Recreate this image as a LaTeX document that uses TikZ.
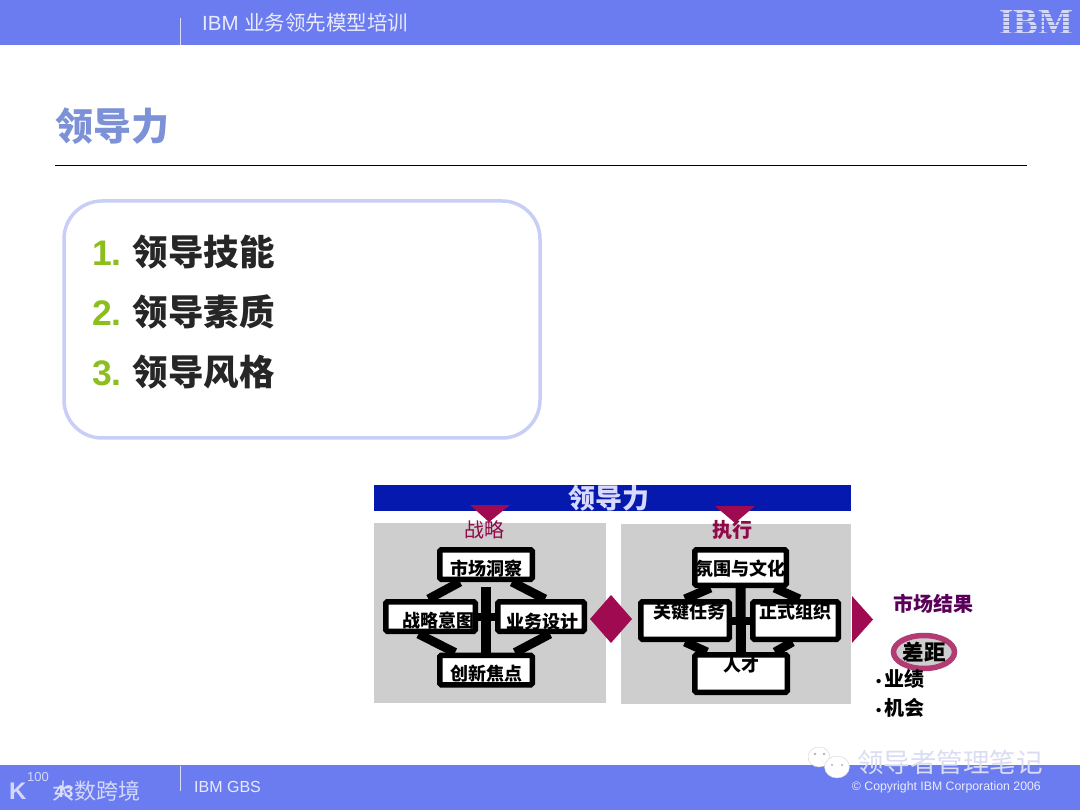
\documentclass[tikz,border=0pt]{standalone}
\usepackage{fontspec}
\usepackage{tikz}
\usetikzlibrary{backgrounds, shapes.geometric}
\setmainfont{Liberation Sans}
\newfontfamily\cjk{Noto Sans CJK SC}
\newcommand{\fsize}[1]{\fontsize{#1}{#1}\selectfont}
\definecolor{bandblue}{RGB}{107,124,240}
\definecolor{barblue}{RGB}{5,25,175}
\definecolor{crimson}{RGB}{160,10,80}
\definecolor{panelgray}{RGB}{206,206,206}
\definecolor{numgreen}{RGB}{140,190,30}
\definecolor{titleblue}{RGB}{125,145,215}
\definecolor{edgeblue}{RGB}{200,206,245}
\definecolor{markgray}{RGB}{218,221,242}
\tikzset{
  band/.style={fill=bandblue, draw=none},
  panel/.style={fill=panelgray, draw=none},
  wedge/.style={fill=crimson, draw=none},
  link/.style={black, line width=9pt},
  taskbox/.style={draw=black, fill=white, line width=5.5pt, rounded corners=1.5pt, inner sep=0pt,
    font=\cjk\bfseries\fsize{18}, text=black},
  bandtext/.style={text=white!85!bandblue, inner sep=0pt, font=\fsize{20.5}},
  listitem/.style={anchor=west, inner sep=0pt, font=\cjk\bfseries\fsize{35.5}, text=black!85}
}
\newcommand{\listnum}[1]{{\fontspec{Liberation Sans}\color{numgreen}#1}}
\newcommand{\boxlift}[2]{\raisebox{#1}[0pt][0pt]{#2}}
\newcommand{\dotmark}{{\fontspec{Liberation Sans}\fsize{15}•}\hspace{3pt}}
\begin{document}
\begin{tikzpicture}[x=1pt, y=-1pt]
  \useasboundingbox (0,0) rectangle (1080,810);

  % Header and footer bands
  \fill[band] (0,0) rectangle (1080,45);
  \fill[band] (0,765) rectangle (1080,810);
  \draw[white!75!bandblue, line width=1pt] (180,18) -- (180,45);
  \draw[white!75!bandblue, line width=1pt] (180,766) -- (180,791);
  \node[bandtext, anchor=west] (course) at (202,23) {IBM {\cjk 业务领先模型培训}};
  \node[bandtext, anchor=west, font=\fsize{16}] (gbs) at (194,787) {IBM GBS};
  \node[bandtext, anchor=east, font=\fsize{12.3}] (copyright) at (1041,787.5) {© Copyright IBM Corporation 2006};

  % IBM logo with stripes
  \node[inner sep=0pt, text=white!70!bandblue, font=\fontspec{Liberation Serif}\bfseries\fsize{37}] (logo) at (1036,22) {IBM};
  \foreach \yy in {10,14,18,22,26,30,34}
    \draw[bandblue, line width=1pt] (996,\yy) -- (1076,\yy);

  % Title
  \node[anchor=west, inner sep=0pt, text=titleblue, font=\cjk\bfseries\fsize{38}] (title) at (55,126) {领导力};
  \draw[black, line width=1pt] (55,166) -- (1027,166);

  % List box
  \draw[draw=edgeblue, line width=3.5pt, rounded corners=38pt] (64,201) rectangle (540,438);
  \node[listitem] (skill) at (92,252) {\listnum{1.} 领导技能};
  \node[listitem] (trait) at (92,312) {\listnum{2.} 领导素质};
  \node[listitem] (style) at (92,372) {\listnum{3.} 领导风格};

  % Leadership bar and panels
  \begin{pgfonlayer}{background}
    \fill[panel] (374,523) rectangle (606,703);
    \fill[panel] (621,524) rectangle (851,704);
  \end{pgfonlayer}
  \fill[barblue] (374,485) rectangle (851,511);
  \node[inner sep=0pt, text=white!85!blue, font=\cjk\bfseries\fsize{27}] (leader) at (609,498) {领导力};
  \fill[wedge] (470,505) -- (510,505) -- (489,522) -- cycle;
  \fill[wedge] (715,506) -- (755,506) -- (735,523) -- cycle;
  \node[inner sep=0pt, text=crimson!90!black, font=\cjk\fsize{20}] (strategy) at (484,530) {战略};
  \node[inner sep=0pt, text=crimson!90!black, font=\cjk\bfseries\fsize{20}] (execution) at (732,530) {执行};

  % Strategy boxes
  \node[taskbox, minimum width=92.5pt, minimum height=29.5pt] (insight) at (486,564.5) {\boxlift{-11pt}{市场洞察}};
  \node[taskbox, minimum width=89.5pt, minimum height=29.5pt] (intent) at (430.5,616.5) {\boxlift{-11pt}{\hspace{15pt}战略意图}};
  \node[taskbox, minimum width=86.5pt, minimum height=29.5pt] (design) at (541,616.5) {\boxlift{-12pt}{\hspace{2pt}业务设计}};
  \node[taskbox, minimum width=92.5pt, minimum height=29.5pt] (focus) at (486,670) {\boxlift{-10.5pt}{创新焦点}};
  \begin{pgfonlayer}{background}
    \draw[link] ([xshift=-26pt]insight.south) -- ([xshift=-2pt]intent.north);
    \draw[link] ([xshift=26pt]insight.south) -- ([xshift=4pt]design.north);
    \draw[link] ([xshift=-12pt]intent.south) -- ([xshift=-31pt]focus.north);
    \draw[link] ([xshift=9pt]design.south) -- ([xshift=29pt]focus.north);
    \draw[link, line width=9.5pt, shorten <=5pt] (insight.south) -- (focus.north);
    \draw[link, line width=8pt] (intent.east) -- (design.west);
  \end{pgfonlayer}

  % Execution boxes
  \node[taskbox, minimum width=91.5pt, minimum height=35.5pt] (culture) at (740.5,567.5) {\boxlift{-8pt}{氛围与文化}};
  \node[taskbox, minimum width=88.5pt, minimum height=37.5pt] (keytask) at (685,620.5) {\boxlift{2pt}{\hspace{8pt}关键任务}};
  \node[taskbox, minimum width=85.5pt, minimum height=37.5pt] (formal) at (795.5,620.5) {\boxlift{2pt}{正式组织}};
  \node[taskbox, minimum width=92.5pt, minimum height=37.5pt] (talent) at (741,673.5) {\boxlift{2pt}{人才}};
  \begin{pgfonlayer}{background}
    \draw[link] ([xshift=-30pt]culture.south) -- ([xshift=0pt]keytask.north);
    \draw[link] ([xshift=34pt]culture.south) -- ([xshift=4pt]formal.north);
    \draw[link] ([xshift=0pt]keytask.south) -- ([xshift=-34pt]talent.north);
    \draw[link] ([xshift=-3pt]formal.south) -- ([xshift=34pt]talent.north);
    \draw[link, line width=10pt] (culture.south) -- (talent.north);
    \draw[link, line width=8pt] (keytask.east) -- (formal.west);
  \end{pgfonlayer}

  % Diamond and result
  \fill[wedge] (611,595) -- (632,619) -- (611,643) -- (590,619) -- cycle;
  \fill[wedge] (852,596) -- (873,619.5) -- (852,643) -- cycle;
  \node[inner sep=0pt, text=violet!70!black, font=\cjk\bfseries\fsize{20}] (result) at (933.5,604) {市场结果};
  \node[ellipse, draw=crimson!80!white, fill=panelgray, line width=5.5pt, minimum width=61pt, minimum height=33pt, inner sep=0pt, font=\cjk\bfseries\fsize{21.5}] (gap) at (924,652) {差距};
  \node[anchor=west, inner sep=0pt, font=\cjk\bfseries\fsize{20}] (perf) at (876,679) {\dotmark 业绩};
  \node[anchor=west, inner sep=0pt, font=\cjk\bfseries\fsize{20}] (chance) at (876,708) {\dotmark 机会};

  % Watermarks
  \node[anchor=west, inner sep=0pt, text=white!70!bandblue, font=\bfseries\fsize{24}] (kmark) at (9,791) {K};
  \node[anchor=west, inner sep=0pt, text=white!70!bandblue, font=\fsize{13}] (hundred) at (27,777) {100};
  \node[anchor=west, inner sep=0pt, text=white!70!bandblue, font=\cjk\fsize{22}] (mark) at (52,791) {大数跨境};
  \node[inner sep=0pt, text=white!75!bandblue, font=\bfseries\fsize{17}] (pagenum) at (64,792) {43};
  \fill[white, draw=gray!35] (819,757) ellipse (11pt and 10pt);
  \fill[white, draw=gray!35] (837,767) ellipse (12.5pt and 11pt);
  \fill[gray!60] (815,754) circle (1.3pt) (824,754) circle (1.3pt) (832,765) circle (1.2pt) (842,765) circle (1.2pt);
  \node[anchor=west, inner sep=0pt, text=markgray, font=\cjk\fsize{26.5}] (wechat) at (857,762) {领导者管理笔记};
\end{tikzpicture}
\end{document}
